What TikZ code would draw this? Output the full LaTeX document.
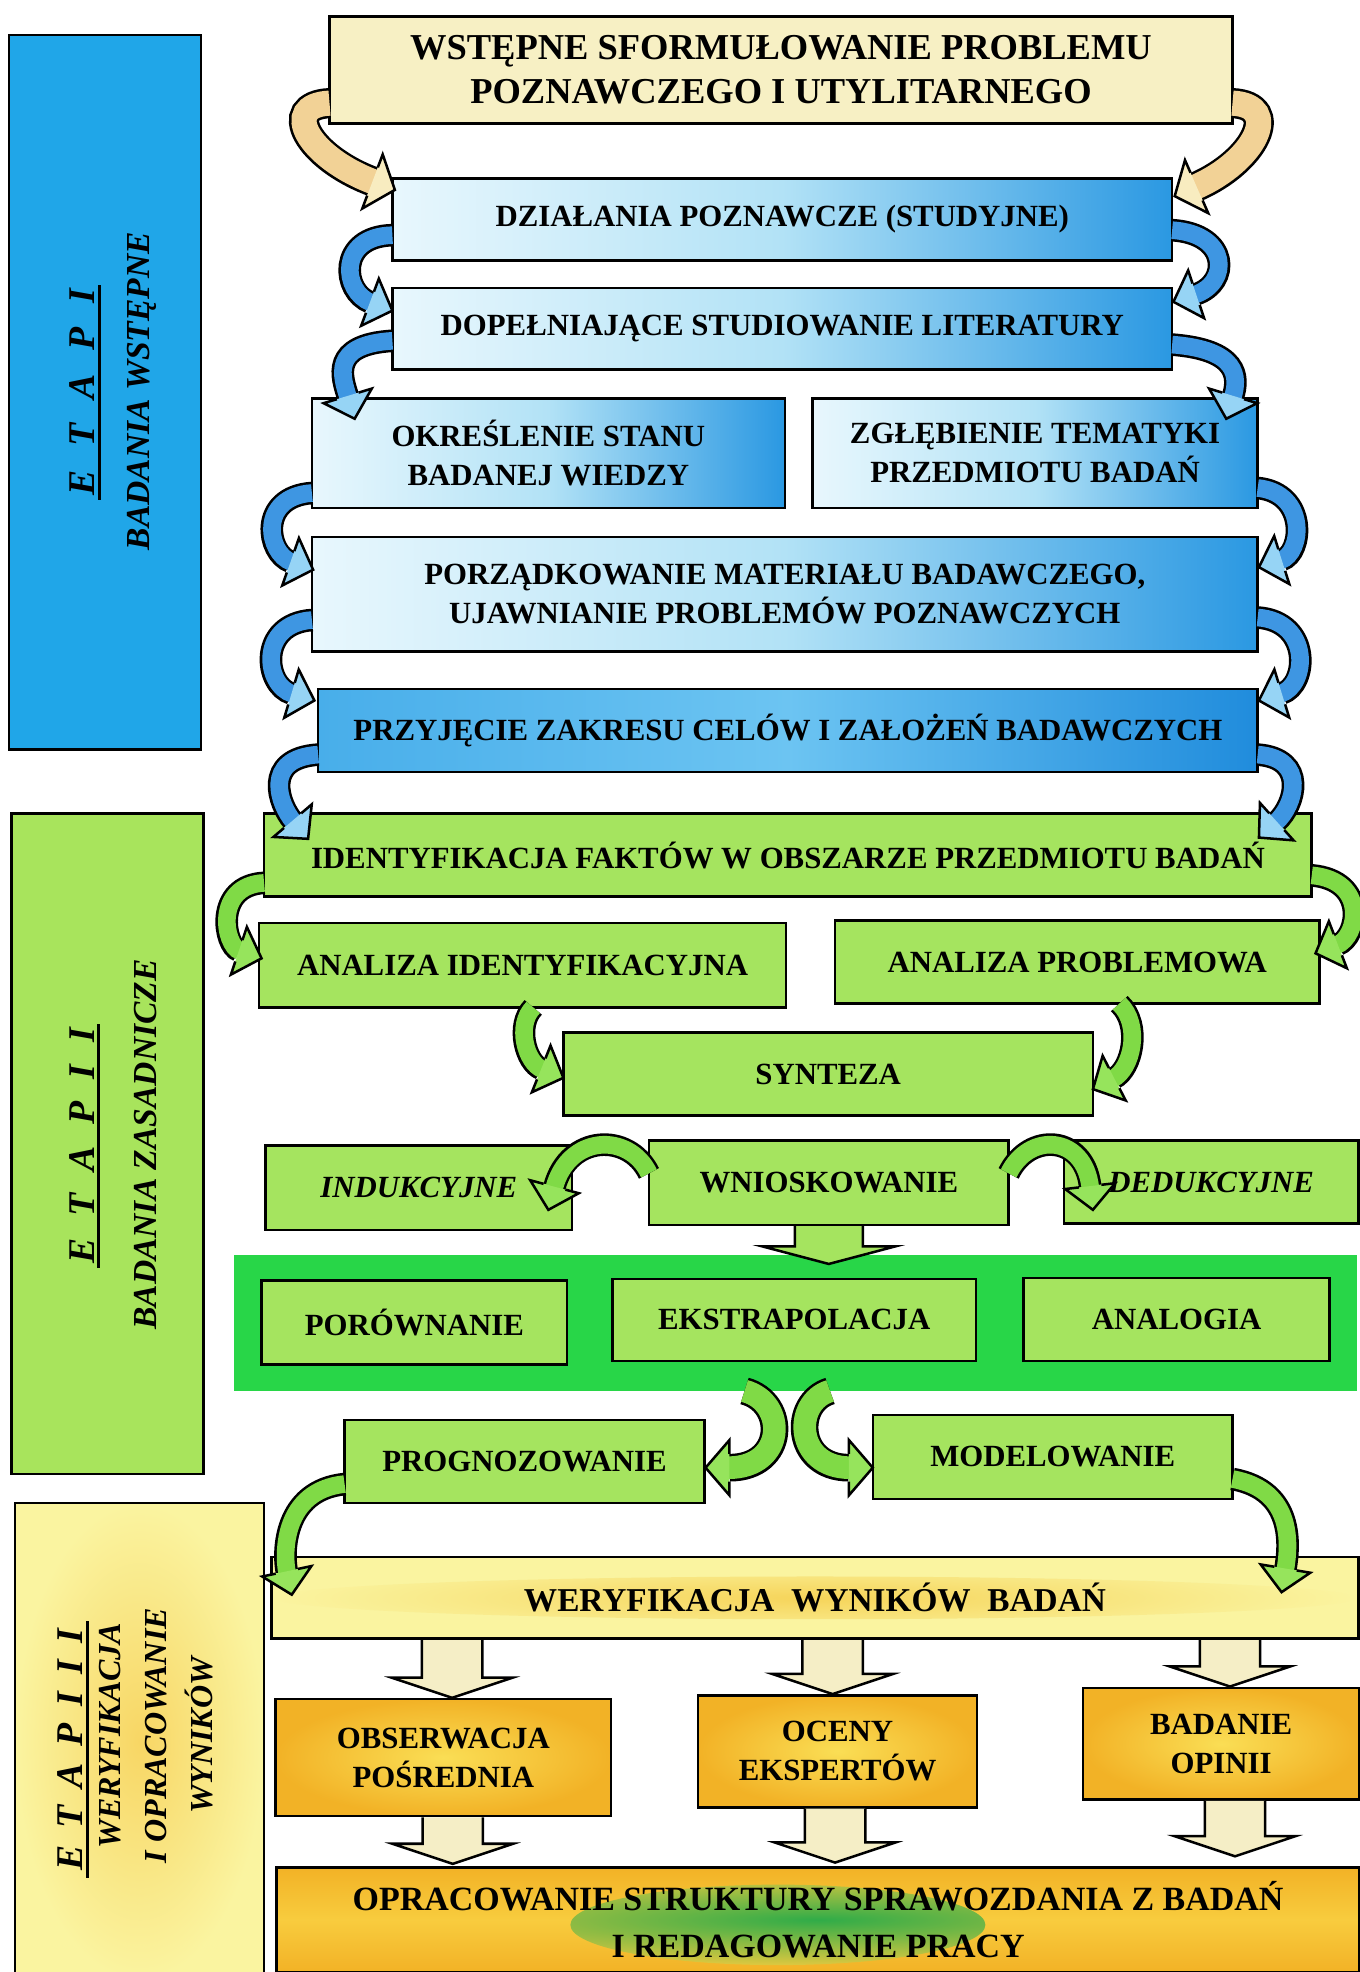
\documentclass[tikz,border=0pt]{standalone}
\usepackage{fontspec}
\setmainfont{Liberation Serif}
\usetikzlibrary{calc,decorations.markings}

\definecolor{creamT}{RGB}{247,240,196}
\definecolor{cyanL}{RGB}{232,247,253}
\definecolor{cyanM}{RGB}{178,226,246}
\definecolor{blueR}{RGB}{42,152,226}
\definecolor{blueP1}{RGB}{72,174,234}
\definecolor{blueP2}{RGB}{108,196,242}
\definecolor{blueP3}{RGB}{32,140,220}
\definecolor{greenB}{RGB}{165,228,95}
\definecolor{greenC}{RGB}{40,214,72}
\definecolor{greenA}{RGB}{128,218,70}
\definecolor{greenH}{RGB}{150,228,92}
\definecolor{blueA}{RGB}{62,150,226}
\definecolor{blueH}{RGB}{150,212,245}
\definecolor{creamA}{RGB}{242,210,150}
\definecolor{creamH}{RGB}{248,236,192}
\definecolor{creamD}{RGB}{245,238,198}
\definecolor{etapA}{RGB}{32,166,232}
\definecolor{etapB}{RGB}{168,228,92}
\definecolor{yelL}{RGB}{250,244,160}
\definecolor{yelM}{RGB}{246,212,90}
\definecolor{yelE}{RGB}{248,214,100}
\definecolor{orO}{RGB}{242,178,38}
\definecolor{orI}{RGB}{250,222,85}
\definecolor{orM}{RGB}{248,204,62}
\definecolor{greenBlob}{RGB}{48,172,72}

% box from (x1,y1) to (x2,y2), y downwards
\newcommand\bx[7]{%
  \pgfmathsetmacro\bxw{#5-#3}\pgfmathsetmacro\bxh{#6-#4}%
  \node[#1, anchor=north west, minimum width=\bxw pt, minimum height=\bxh pt] (#2) at (#3,#4) {#7};}

% curved ribbon arrow: band colour, head colour, half width of coloured band, path
\newcommand\carrow[4]{%
  \pgfmathsetmacro\caw{2*#3+4}%
  \pgfmathsetmacro\cac{2*#3}%
  \pgfmathsetmacro\cae{#3+2}%
  \pgfmathsetmacro\cah{#3+13}%
  \draw[black, line width=\caw pt, shorten >=19pt] #4;
  \draw[#1, line width=\cac pt, shorten >=18pt] #4;
  \path[decorate, decoration={markings, mark=at position 0.9995 with {%
      \fill[#2] (-19pt,\cae pt) -- (-19pt,\cah pt) -- (0pt,0pt) -- (-19pt,-\cah pt) -- (-19pt,-\cae pt) -- cycle;
      \draw[black, line width=2pt, line join=miter] (-19pt,\cae pt) -- (-19pt,\cah pt) -- (0pt,0pt) -- (-19pt,-\cah pt) -- (-19pt,-\cae pt);}}] #4;}

% straight block arrow downwards: fill, start, tip, shaft half width, head half width, head length
\newcommand\bdown[6]{%
  \draw[fill=#1, line width=2pt, line join=miter] let \p1=#2, \p2=#3 in
   (\x2-#4pt,\y1-1pt) -- (\x2-#4pt,\y2+#6pt) -- (\x2-#5pt,\y2+#6pt) -- (\x2,\y2) -- (\x2+#5pt,\y2+#6pt) -- (\x2+#4pt,\y2+#6pt) -- (\x2+#4pt,\y1-1pt);}

\begin{document}
\begin{tikzpicture}[x=1pt, y=-1pt,
  box/.style={draw=black, line width=2pt, align=center, inner sep=0pt, outer sep=0pt,
              font=\bfseries\fontsize{24.5}{31}\selectfont},
  bluebox/.style={box, left color=cyanL, right color=blueR, middle color=cyanM},
  darkbluebox/.style={box, left color=blueP1, right color=blueP3, middle color=blueP2},
  greenbox/.style={box, fill=greenB},
  titlebox/.style={box, fill=creamT, font=\bfseries\fontsize{29}{35.5}\selectfont},
  werbox/.style={box, fill=yelL, font=\bfseries\fontsize{26.5}{31}\selectfont,
     path picture={\shade[inner color=yelM, outer color=yelL] (path picture bounding box.center) ellipse [x radius=430pt, y radius=17pt];}},
  orbox/.style={box, inner color=orI, outer color=orO},
  oprbox/.style={box, top color=orO, bottom color=orO, middle color=orM,
     font=\bfseries\fontsize{27}{37}\selectfont,
     path picture={\shade[inner color=greenBlob, outer color=orM] ([xshift=-32pt,yshift=-4pt]path picture bounding box.center) ellipse [x radius=165pt, y radius=32pt];}},
  contbox/.style={fill=greenC, draw=none, inner sep=0pt, outer sep=0pt},
  etapbox/.style={draw=black, line width=2pt, inner sep=0pt, outer sep=0pt},
  etapt/.style={rotate=90, inner sep=0pt, outer sep=0pt, font=\bfseries\itshape\fontsize{30}{30}\selectfont},
  etaps/.style={rotate=90, inner sep=0pt, outer sep=0pt, align=center, font=\bfseries\itshape\fontsize{26.7}{36.5}\selectfont},
  uline/.style={line width=2.5pt}
]
\fill[white] (0,0) rectangle (1081,1568);
\useasboundingbox (0,0) rectangle (1081,1568);

% stage columns
\bx{etapbox, fill=etapA}{et1}{7}{28}{160}{596}{}
\bx{etapbox, fill=etapB}{et2}{9}{647}{162}{1172}{}
\bx{etapbox, inner color=yelE, outer color=yelL}{et3}{12}{1195}{210}{1574}{}

\node[etapt] (e1) at (65.5,312) {E\hspace{19pt}T\hspace{19pt}A\hspace{19pt}P\hspace{19pt}I};
\draw[uline] ([xshift=3.5pt,yshift=-3pt]e1.south west) -- ([xshift=3.5pt,yshift=3pt]e1.south east);
\node[etaps] (b1) at (112.5,311) {BADANIA WSTĘPNE};

\node[etapt] (e2) at (65,911) {E\hspace{17.6pt}T\hspace{17.6pt}A\hspace{17.6pt}P\hspace{17.6pt}I\hspace{17.6pt}I};
\draw[uline] ([xshift=3.5pt,yshift=-3pt]e2.south west) -- ([xshift=3.5pt,yshift=3pt]e2.south east);
\node[etaps] (b2) at (115.5,910) {BADANIA ZASADNICZE};

\node[etapt] (e3) at (56,1391) {E\hspace{13.4pt}T\hspace{13.4pt}A\hspace{13.4pt}P\hspace{13.4pt}I\hspace{13.4pt}I\hspace{13.4pt}I};
\draw[uline] ([xshift=3.5pt,yshift=-6pt]e3.south west) -- ([xshift=3.5pt,yshift=6pt]e3.south east);
\node[etaps, font=\bfseries\itshape\fontsize{25.5}{36.5}\selectfont] (b3) at (124,1380) {WERYFIKACJA\\I OPRACOWANIE\\WYNIKÓW};

% main boxes
\bx{titlebox}{title}{262}{13}{980}{98}{WSTĘPNE SFORMUŁOWANIE PROBLEMU\\POZNAWCZEGO I UTYLITARNEGO}
\bx{bluebox}{dzial}{312}{142}{932}{207}{DZIAŁANIA POZNAWCZE (STUDYJNE)}
\bx{bluebox}{dopel}{312}{229}{932}{294}{DOPEŁNIAJĄCE STUDIOWANIE LITERATURY}
\bx{bluebox}{okres}{248}{317}{624}{404}{OKREŚLENIE STANU\\BADANEJ WIEDZY}
\bx{bluebox}{zgleb}{646}{317}{1000}{404}{ZGŁĘBIENIE TEMATYKI\\PRZEDMIOTU BADAŃ}
\bx{bluebox}{porz}{248}{427}{1000}{518}{PORZĄDKOWANIE MATERIAŁU BADAWCZEGO,\\UJAWNIANIE PROBLEMÓW POZNAWCZYCH}
\bx{darkbluebox}{przyj}{253}{548}{1000}{614}{PRZYJĘCIE ZAKRESU CELÓW I ZAŁOŻEŃ BADAWCZYCH}
\bx{greenbox}{ident}{210}{647}{1043}{713}{IDENTYFIKACJA FAKTÓW W OBSZARZE PRZEDMIOTU BADAŃ}
\bx{greenbox}{aid}{206}{734}{625}{801}{ANALIZA IDENTYFIKACYJNA}
\bx{greenbox}{apr}{664}{732}{1049}{798}{ANALIZA PROBLEMOWA}
\bx{greenbox}{synt}{448}{821}{869}{887}{SYNTEZA}
\bx{greenbox}{induk}{211}{911}{455}{978}{\itshape INDUKCYJNE}
\bx{greenbox}{wn}{516}{907}{802}{974}{WNIOSKOWANIE}
\bx{greenbox}{deduk}{846}{907}{1080}{973}{\itshape DEDUKCYJNE}
\bx{contbox}{cont}{186}{998}{1079}{1106}{}
\bx{greenbox}{por}{208}{1018}{451}{1085}{PORÓWNANIE}
\bx{greenbox}{eks}{487}{1017}{776}{1082}{EKSTRAPOLACJA}
\bx{greenbox}{ana}{814}{1016}{1057}{1082}{ANALOGIA}
\bx{greenbox}{prog}{274}{1129}{560}{1195}{PROGNOZOWANIE}
\bx{greenbox}{mod}{694}{1125}{980}{1192}{MODELOWANIE}
\bx{werbox}{wer}{216}{1238}{1080}{1303}{WERYFIKACJA\ \ WYNIKÓW\ \ BADAŃ}
\bx{orbox}{obs}{219}{1351}{486}{1444}{OBSERWACJA\\POŚREDNIA}
\bx{orbox}{oce}{555}{1348}{777}{1437}{OCENY\\EKSPERTÓW}
\bx{orbox}{bad}{861}{1342}{1081}{1431}{BADANIE\\OPINII}
\bx{oprbox}{opr}{220}{1485}{1081}{1568}{OPRACOWANIE STRUKTURY SPRAWOZDANIA Z BADAŃ\\I REDAGOWANIE PRACY}

% straight block arrows
\bdown{creamD}{(wer.south)}{($(obs.north)+(7,-1)$)}{24}{48}{16}
\bdown{creamD}{(obs.south)}{($(opr.north west)+(140,-3)$)}{24}{48}{16}
\bdown{creamD}{(wer.south)}{($(oce.north)+(-4,-1)$)}{24}{48}{16}
\bdown{creamD}{(oce.south)}{($(opr.north west)+(444,-4)$)}{24}{48}{16}
\bdown{creamD}{(wer.south)}{($(bad.north)+(7,-1)$)}{24}{48}{16}
\bdown{creamD}{(bad.south)}{($(opr.north west)+(762,-9)$)}{24}{48}{16}
\bdown{greenB}{(wn.south)}{($(wn.south |- cont.north)+(0,7)$)}{27}{53}{14}

% curved arrows
\carrow{creamA}{creamH}{10}{($(title.north west)+(0,69)$) .. controls +(-40,2) and +(-69,-26) .. ($(dzial.north west)+(2,9)$)}
\carrow{creamA}{creamH}{10}{($(title.north east)+(0,69)$) .. controls +(40,2) and +(64,-28) .. ($(dzial.north east)+(2,14)$)}
\carrow{blueA}{blueH}{7}{($(dzial.north west)+(0,45)$) .. controls +(-44,1) and +(-40,-15) .. ($(dopel.north west)+(0,18)$)}
\carrow{blueA}{blueH}{7}{($(dzial.north east)+(0,41)$) .. controls +(46,3) and +(45,-15) .. ($(dopel.north east)+(1,11)$)}
\carrow{blueA}{blueH}{7}{($(dopel.north west)+(0,42)$) .. controls +(-50,3) and +(-10,-33) .. ($(okres.north west)+(34,16)$)}
\carrow{blueA}{blueH}{7}{($(dopel.north east)+(0,45)$) .. controls +(53,4) and +(10,-33) .. ($(zgleb.north east)+(-25,16)$)}
\carrow{blueA}{blueH}{7}{($(okres.north west)+(0,75)$) .. controls +(-43,3) and +(-37,-13) .. ($(porz.north west)+(1,26)$)}
\carrow{blueA}{blueH}{7}{($(zgleb.north east)+(0,71)$) .. controls +(40,4) and +(35,-11) .. ($(porz.north east)+(1,24)$)}
\carrow{blueA}{blueH}{7}{($(porz.north west)+(0,66)$) .. controls +(-43,3) and +(-40,-12) .. ($(przyj.north west)+(-3,9)$)}
\carrow{blueA}{blueH}{7}{($(porz.north east)+(0,64)$) .. controls +(43,3) and +(39,-12) .. ($(przyj.north east)+(1,9)$)}
\carrow{blueA}{blueH}{7}{($(przyj.north west)+(0,52)$) .. controls +(-45,3) and +(-23,-27) .. ($(ident.north west)+(35,20)$)}
\carrow{blueA}{blueH}{7}{($(przyj.north east)+(0,52)$) .. controls +(40,3) and +(29,-26) .. ($(ident.north east)+(-42,19)$)}
\carrow{greenA}{greenH}{7}{($(ident.north west)+(0,55)$) .. controls +(-40,2) and +(-30,-10) .. ($(aid.north west)+(2,28)$)}
\carrow{greenA}{greenH}{7}{($(ident.north east)+(0,49)$) .. controls +(45,4) and +(34,-13) .. ($(apr.north east)+(-3,26)$)}
\carrow{greenA}{greenH}{7}{($(aid.south west)+(218,0)$) .. controls +(-14,14) and +(-30,-12) .. ($(synt.north west)+(0,36)$)}
\carrow{greenA}{greenH}{7}{($(apr.south west)+(226,0)$) .. controls +(18,17) and +(31,-16) .. ($(synt.north east)+(0,45)$)}
\carrow{greenA}{greenH}{7}{($(wn.north west)+(0,26)$) .. controls +(-16,-33) and +(16,-60) .. ($(induk.north east)+(-19,51)$)}
\carrow{greenA}{greenH}{7}{($(wn.north east)+(0,26)$) .. controls +(16,-33) and +(-7,-60) .. ($(deduk.north west)+(23,55)$)}
\carrow{greenA}{greenH}{9}{($(cont.south west)+(406,0)$) .. controls +(34,9) and +(64,0) .. ($(prog.north east)+(1,38)$)}
\carrow{greenA}{greenH}{9}{($(cont.south west)+(474,0)$) .. controls +(-30,9) and +(-62,0) .. ($(mod.north west)+(0,42)$)}
\carrow{greenA}{greenH}{7}{($(prog.north west)+(0,51)$) .. controls +(-49,5) and +(-7,-33) .. ($(wer.north west)+(16,30)$)}
\carrow{greenA}{greenH}{7}{($(mod.north east)+(0,51)$) .. controls +(50,9) and +(6,-36) .. ($(wer.north east)+(-61,28)$)}
\end{tikzpicture}
\end{document}
